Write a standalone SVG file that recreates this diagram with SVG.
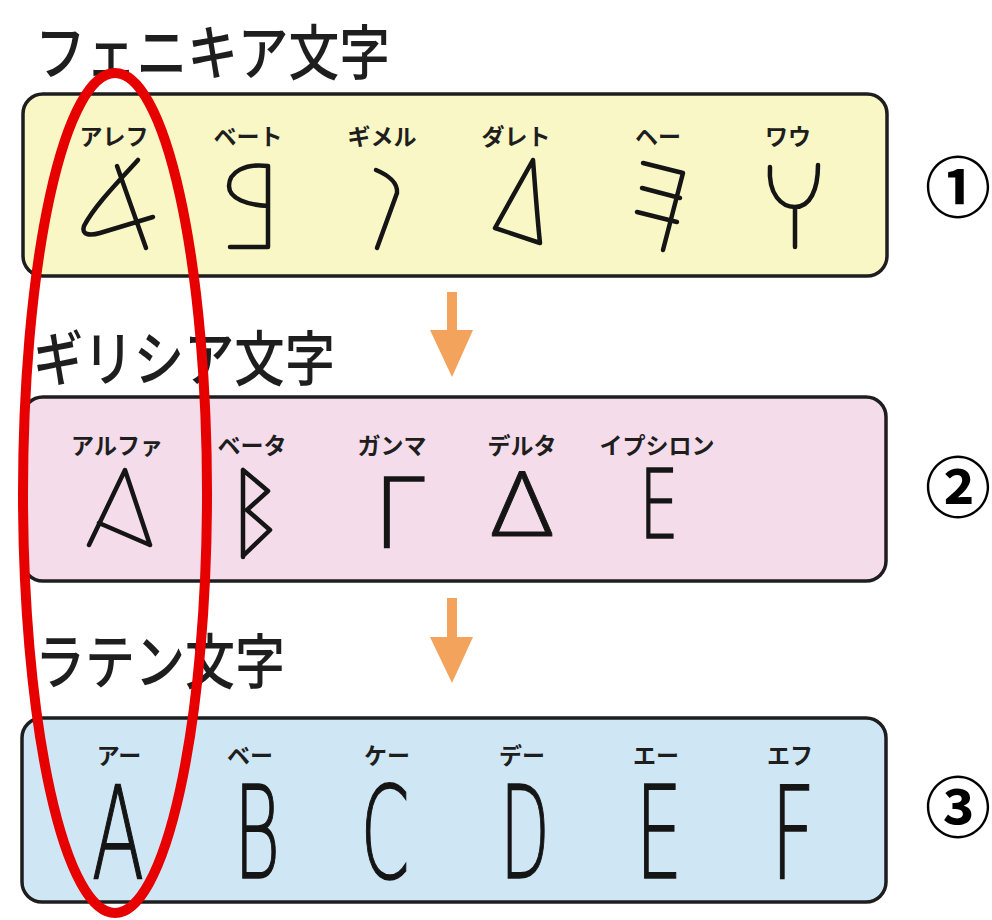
<svg xmlns="http://www.w3.org/2000/svg" width="992" height="920" viewBox="0 0 992 920">
<style>
.head{font-family:"Noto Sans CJK JP","Noto Sans CJK SC",sans-serif;font-size:60px;font-weight:500;fill:#1e1e1e}
.lbl{font-family:"Noto Sans CJK JP","Noto Sans CJK SC",sans-serif;font-size:23px;font-weight:700;fill:#1e1e1e;text-anchor:middle}
.box{stroke:#1e1e1e;stroke-width:3.5}
.gl{fill:none;stroke:#151515;stroke-width:4.5;stroke-linecap:round;stroke-linejoin:round}
.let{font-family:"DejaVu Sans",sans-serif;font-weight:200;fill:#151515;stroke:#151515;stroke-width:1.6;text-anchor:middle}
.num{font-family:"Noto Sans CJK JP","Noto Sans CJK SC",sans-serif;font-size:66px;font-weight:700;fill:#000;text-anchor:middle}
.arrow{fill:#f4a35c}
</style>
<rect width="992" height="920" fill="#ffffff"/>

<g id="phoenician">
  <text class="head" x="35" y="75" textLength="355" lengthAdjust="spacingAndGlyphs">フェニキア文字</text>
  <rect class="box" x="23" y="94" width="864" height="182" rx="20" fill="#faf7c6"/>
  <text class="lbl" x="114" y="145">アレフ</text>
  <text class="lbl" x="248" y="145">ベート</text>
  <text class="lbl" x="382" y="145">ギメル</text>
  <text class="lbl" x="516" y="145">ダレト</text>
  <text class="lbl" x="658" y="145">ヘー</text>
  <text class="lbl" x="788" y="145">ワウ</text>
  <path class="gl" d="M117,166 L146,248 M138,160 C120,180 95,205 84,226 C81,235 90,236 100,233 L153,217"/>
  <path class="gl" d="M268,166 L268,247 M230,247 L268,247 M268,166 C245,163 229,172 229,186 C229,199 248,205 268,206"/>
  <path class="gl" d="M376,170 C388,175 398,183 397,193 L377,248"/>
  <path class="gl" d="M533,160 L495,228 L540,243 C537,215 535,185 533,160 Z"/>
  <path class="gl" d="M643,163 L683,173 M642,188 L680,198 M637,212 L677,222 M683,173 L663,250"/>
  <path class="gl" d="M770,167 C768,195 782,207 795,207 C810,207 818,190 818,165 M795,207 L795,247"/>
  <text class="num" x="958" y="212">①</text>
</g>

<g id="greek">
  <text class="head" x="33" y="381" textLength="302" lengthAdjust="spacingAndGlyphs">ギリシア文字</text>
  <rect class="box" x="23" y="397" width="863" height="184" rx="20" fill="#f5dcea"/>
  <text class="lbl" x="117" y="454">アルファ</text>
  <text class="lbl" x="252" y="454">ベータ</text>
  <text class="lbl" x="392" y="454">ガンマ</text>
  <text class="lbl" x="522" y="454">デルタ</text>
  <text class="lbl" x="657" y="454">イプシロン</text>
  <path class="gl" d="M89,545 L125,470 L150,545 M99,523 L150,545"/>
  <path class="gl" d="M243,470 L243,557 M243,470 L268,491 L247,510 L270,530 L243,556"/>
  <text class="let" font-size="96" transform="translate(399,547) scale(0.95,1)">Γ</text>
  <text font-family="'Open Sans',sans-serif" font-weight="300" font-size="90" fill="#151515" stroke="#151515" stroke-width="0.8" text-anchor="middle" transform="translate(522,536) scale(1.2,1)">Δ</text>
  <text class="let" font-size="96" transform="translate(659,538) scale(0.65,1)">Ε</text>
  <text class="num" x="958" y="512">②</text>
</g>

<g id="latin">
  <text class="head" x="35" y="684" textLength="250" lengthAdjust="spacingAndGlyphs">ラテン文字</text>
  <rect class="box" x="22" y="718" width="864" height="184" rx="20" fill="#cfe6f5"/>
  <text class="lbl" x="119" y="764">アー</text>
  <text class="lbl" x="250" y="764">ベー</text>
  <text class="lbl" x="387" y="764">ケー</text>
  <text class="lbl" x="522" y="764">デー</text>
  <text class="lbl" x="656" y="764">エー</text>
  <text class="lbl" x="790" y="764">エフ</text>
  <g class="let" font-size="128">
    <text transform="translate(118,878) scale(0.6,1)">A</text>
    <text transform="translate(257,878) scale(0.55,1)">B</text>
    <text transform="translate(385,878) scale(0.55,1)">C</text>
    <text transform="translate(525,878) scale(0.5,1)">D</text>
    <text transform="translate(659,878) scale(0.58,1)">E</text>
    <text transform="translate(793,878) scale(0.6,1)">F</text>
  </g>
  <text class="num" x="958" y="832">③</text>
</g>

<g id="connectors">
  <path class="arrow" d="M447,292 L457,292 L457,330 L473,330 L452,377 L430,330 L447,330 Z"/>
  <path class="arrow" d="M447,598 L457,598 L457,637 L473,637 L452,683 L430,637 L447,637 Z"/>
</g>

<g id="highlight">
  <ellipse cx="115" cy="493" rx="92" ry="420" fill="none" stroke="#e60000" stroke-width="10"/>
</g>
</svg>
